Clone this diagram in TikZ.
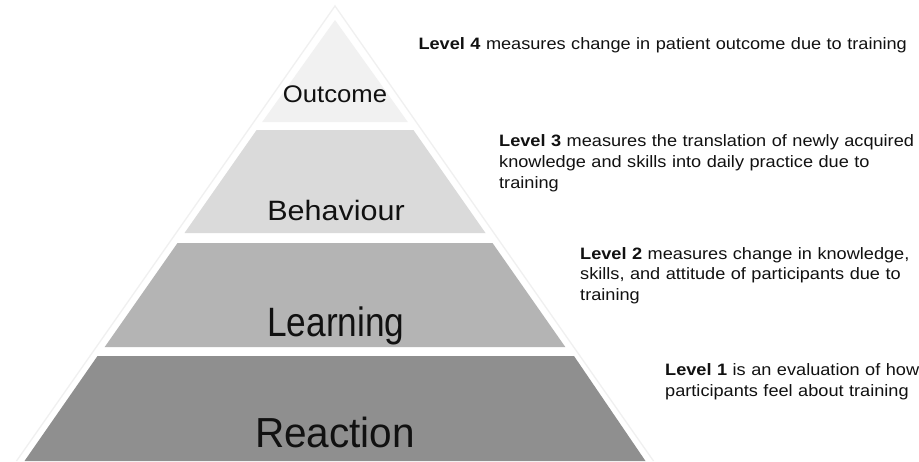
\documentclass[tikz,border=0pt]{standalone}
\usepackage{fontspec}
\setmainfont{Liberation Sans}
\newfontfamily\lvfont{Liberation Sans}[FakeStretch=1.1]
\newfontfamily\fOut{Liberation Sans}[FakeStretch=1.07]
\newfontfamily\fBeh{Liberation Sans}[FakeStretch=1.09]
\newfontfamily\fLea{Liberation Sans}[FakeStretch=0.86]
\newfontfamily\fRea{Liberation Sans}[FakeStretch=0.965]
\definecolor{cOut}{HTML}{F1F1F1}
\definecolor{cBeh}{HTML}{DADADA}
\definecolor{cLea}{HTML}{B4B4B4}
\definecolor{cRea}{HTML}{8F8F8F}
\definecolor{cEdge}{HTML}{F0F0F0}
\definecolor{cTxt}{HTML}{111111}
\begin{document}
\begin{tikzpicture}[x=1pt,y=-1pt,
  band/.style={draw=none},
  lbl/.style={inner sep=0pt, anchor=base, text=cTxt},
  lvl/.style={inner sep=0pt, anchor=base west, text width=500pt, align=left, text=cTxt,
    font=\lvfont\fontsize{16.5}{20.7}\selectfont}]
\useasboundingbox (0,0) rectangle (919,461);
\fill[white] (0,0) rectangle (919,461);
% outer faint triangle
\draw[cEdge, line width=1.3pt, line join=miter] (16.5,461) -- (335,6) -- (653.5,461);
% bands
\fill[cOut, band] (335,20) -- (407.8,122) -- (262.2,122) -- cycle;
\fill[cBeh, band] (256.6,130) -- (413.4,130) -- (485.5,233) -- (184.5,233) -- cycle;
\fill[cLea, band] (177.5,243) -- (492.5,243) -- (565.3,347) -- (104.7,347) -- cycle;
\fill[cRea, band] (97.5,356) -- (574,356) -- (645.5,461) -- (24.5,461) -- cycle;
% band labels
\node[lbl, font=\fOut\fontsize{24}{28}\selectfont] (outcome) at (335,102) {Outcome};
\node[lbl, font=\fBeh\fontsize{28}{32}\selectfont] (behaviour) at (336,220) {Behaviour};
\node[lbl, font=\fLea\fontsize{41}{46}\selectfont] (learning) at (336,336.5) {Learning};
\node[lbl, font=\fRea\fontsize{42}{46}\selectfont] (reaction) at (335,447) {Reaction};
% level descriptions
\node[lvl] (l4) at (418.3,49) {\textbf{Level 4} measures change in patient outcome due to training};
\node[lvl] (l3) at (499,146.7) {\textbf{Level 3} measures the translation of newly acquired\\knowledge and skills into daily practice due to\\training};
\node[lvl] (l2) at (580,259) {\textbf{Level 2} measures change in knowledge,\\skills, and attitude of participants due to\\training};
\node[lvl] (l1) at (665,375.7) {\textbf{Level 1} is an evaluation of how\\participants feel about training};
\end{tikzpicture}
\end{document}
